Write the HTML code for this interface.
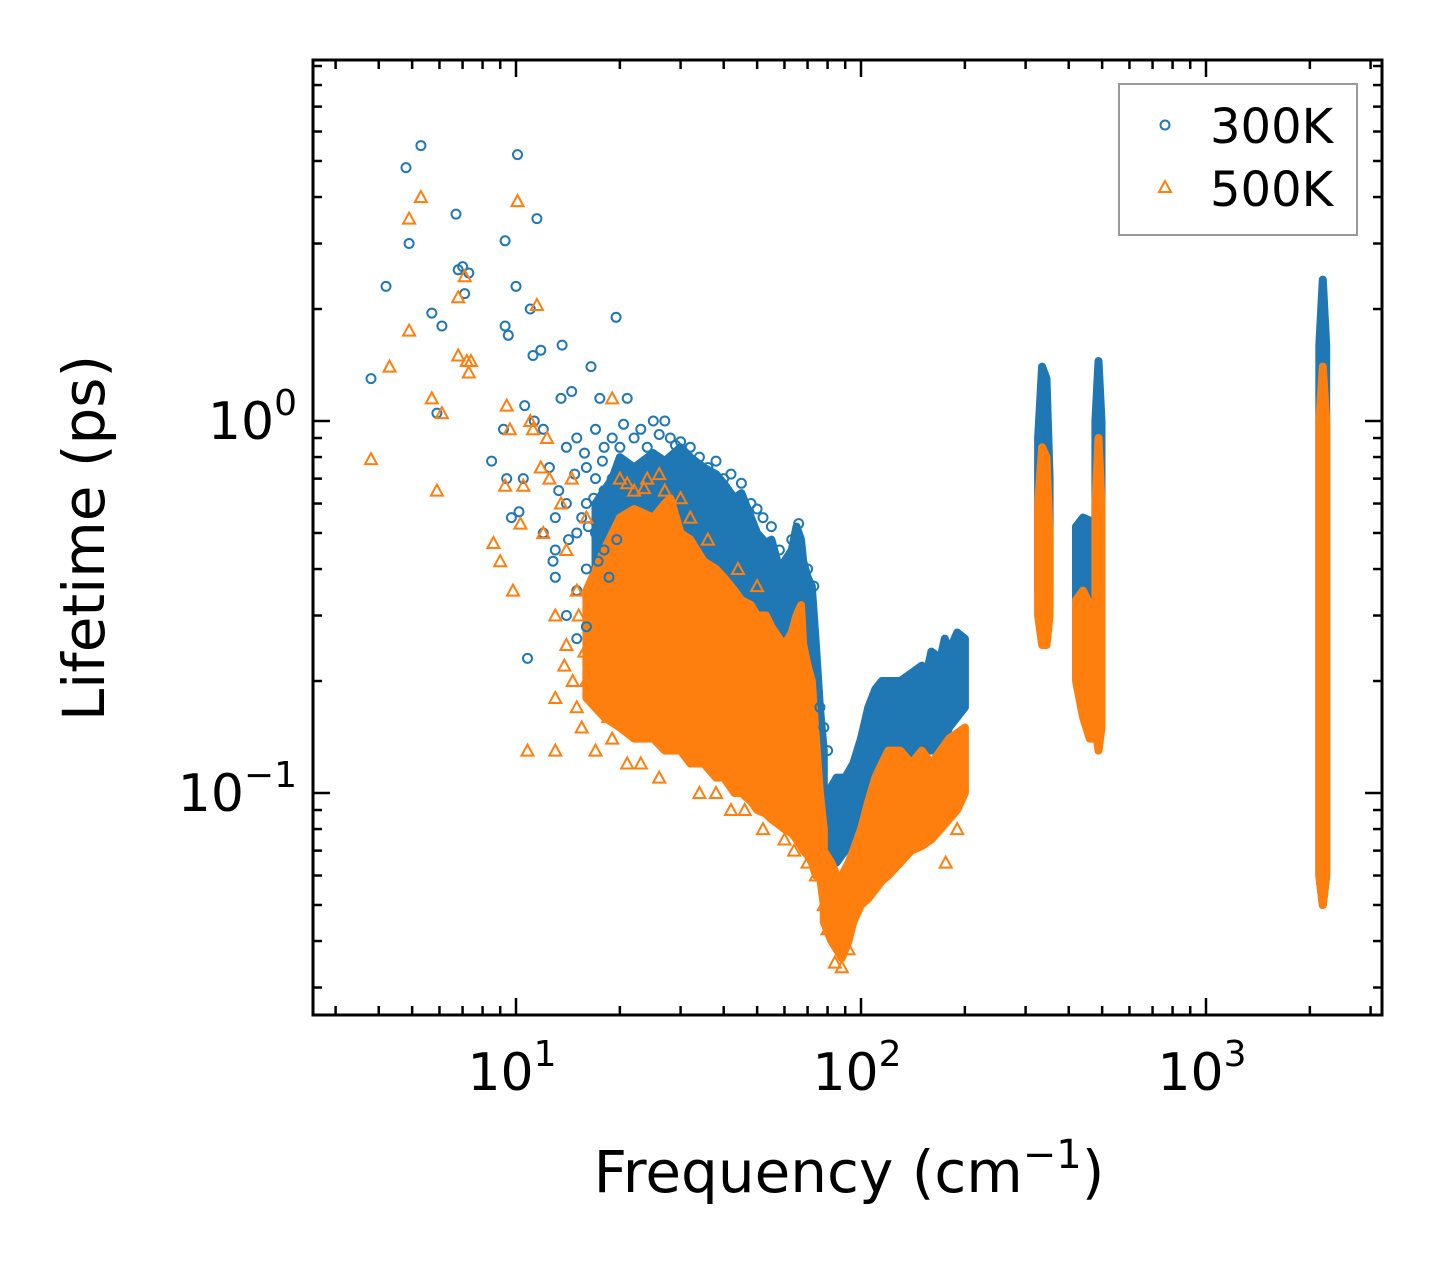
<!DOCTYPE html>
<html><head><meta charset="utf-8"><style>
body{margin:0;background:#fff}
svg text{font-family:"DejaVu Sans","Liberation Sans",sans-serif;fill:#000}
</style></head><body>
<svg id="chart" width="1442" height="1265" viewBox="0 0 1442 1265" xmlns="http://www.w3.org/2000/svg">
<rect width="1442" height="1265" fill="#fff"/>
<g id="bands"></g>
<g id="pts"></g>
<g id="axes"></g>
<g>
<rect x="1119" y="84" width="238" height="151" fill="#fff" stroke="#999" stroke-width="2"/>
<circle cx="1165" cy="125" r="4.5" fill="none" stroke="#1f77b4" stroke-width="2"/>
<text x="1210" y="143" font-size="48">300K</text>
<path d="M1165,181 L1171,192 L1159,192 Z" fill="none" stroke="#ff7f0e" stroke-width="2"/>
<text x="1210" y="206" font-size="48">500K</text>
</g>
<text x="849" y="1192" font-size="58" text-anchor="middle">Frequency (cm<tspan dy="-24" font-size="40">−1</tspan><tspan dy="24">)</tspan></text>
<text transform="translate(104,538) rotate(-90)" font-size="58" text-anchor="middle">Lifetime (ps)</text>
</svg>
<script>
// ---- data ----
const blueBandA_f=[17,19,20,22,25,27,30,32,35,38,40,43,45,48,50,53,55,58,60,63,65,67,68,70,72,74,76,78];
const blueBandA_hi=[0.6,0.7,0.8,0.75,0.82,0.78,0.85,0.8,0.75,0.72,0.68,0.62,0.64,0.55,0.5,0.47,0.48,0.4,0.42,0.45,0.52,0.48,0.42,0.38,0.36,0.25,0.17,0.13];
const blueBandA_lo=[0.35,0.3,0.3,0.28,0.27,0.26,0.25,0.24,0.22,0.2,0.19,0.17,0.16,0.15,0.15,0.14,0.13,0.12,0.11,0.1,0.1,0.09,0.09,0.085,0.08,0.08,0.08,0.08];
const blueBandB_f=[80,85,90,95,100,105,110,115,120,125,130,140,150,155,160,170,175,180,190,200];
const blueBandB_hi=[0.1,0.11,0.11,0.12,0.14,0.17,0.19,0.2,0.2,0.2,0.2,0.21,0.22,0.21,0.24,0.23,0.26,0.24,0.27,0.26];
const blueBandB_lo=[0.065,0.065,0.07,0.07,0.08,0.09,0.1,0.1,0.11,0.11,0.11,0.12,0.12,0.13,0.13,0.14,0.14,0.15,0.16,0.17];
const blueBandC_f=[326,335,345,352];
const blueBandC_hi=[0.9,1.4,1.3,0.7];
const blueBandC_lo=[0.35,0.3,0.3,0.35];
const blueBandD_f=[420,440,460,472];
const blueBandD_hi=[0.52,0.55,0.54,0.5];
const blueBandD_lo=[0.32,0.3,0.3,0.3];
const blueBandE_f=[478,488,498];
const blueBandE_hi=[1.0,1.45,1.0];
const blueBandE_lo=[0.2,0.15,0.2];
const blueBandF_f=[2130,2180,2230];
const blueBandF_hi=[1.6,2.4,1.6];
const blueBandF_lo=[0.06,0.05,0.06];

const orangeBandA_f=[16,18,20,22,25,27,28,30,32,35,38,40,43,45,48,50,53,55,58,60,63,65,67,68,70,72,74,76,78];
const orangeBandA_hi=[0.35,0.45,0.55,0.58,0.55,0.6,0.62,0.5,0.48,0.42,0.4,0.38,0.35,0.33,0.32,0.3,0.3,0.28,0.26,0.25,0.27,0.3,0.32,0.25,0.22,0.2,0.14,0.1,0.08];
const orangeBandA_lo=[0.18,0.16,0.15,0.14,0.14,0.13,0.13,0.13,0.12,0.12,0.11,0.11,0.1,0.1,0.095,0.09,0.088,0.085,0.082,0.08,0.078,0.075,0.072,0.07,0.068,0.065,0.06,0.06,0.05];
const orangeBandB_f=[78,82,85,88,92,95,100,105,110,115,120,130,140,150,160,170,180,190,200];
const orangeBandB_hi=[0.07,0.065,0.06,0.06,0.065,0.07,0.08,0.095,0.11,0.12,0.13,0.13,0.12,0.13,0.12,0.13,0.14,0.145,0.15];
const orangeBandB_lo=[0.045,0.04,0.038,0.036,0.04,0.045,0.05,0.052,0.055,0.058,0.06,0.065,0.07,0.072,0.075,0.08,0.085,0.09,0.1];
const orangeBandC_f=[326,335,345,352];
const orangeBandC_hi=[0.6,0.85,0.8,0.5];
const orangeBandC_lo=[0.3,0.25,0.25,0.3];
const orangeBandD_f=[420,440,460,472];
const orangeBandD_hi=[0.33,0.35,0.32,0.3];
const orangeBandD_lo=[0.2,0.16,0.14,0.14];
const orangeBandE_f=[478,488,498];
const orangeBandE_hi=[0.6,0.9,0.6];
const orangeBandE_lo=[0.15,0.13,0.15];
const orangeBandF_f=[2130,2180,2230];
const orangeBandF_hi=[1.0,1.4,1.0];
const orangeBandF_lo=[0.06,0.05,0.06];

const bluePoints=[[3.8,1.3],[4.2,2.3],[4.8,4.8],[4.9,3.0],[5.3,5.5],[5.7,1.95],[5.9,1.05],[6.1,1.8],[6.7,3.6],[6.8,2.55],[7.0,2.6],[7.1,2.2],[7.3,2.5],[8.5,0.78],[9.2,0.95],[9.3,1.8],[9.3,3.05],[9.4,0.7],[9.5,1.7],[9.7,0.55],[10,2.3],[10.1,5.2],[10.2,0.57],[10.5,0.7],[10.6,1.1],[10.8,0.23],[11,2.0],[11.2,1.5],[11.5,3.5],[11.8,1.55],[11.3,1.0],[12,0.95],[12.5,0.75],[13,0.55],[13,0.45],[13.5,1.15],[13.6,1.6],[14,0.85],[14,0.6],[14.5,1.2],[15,0.9],[15,0.5],[15,0.35],[16,0.75],[16,0.6],[16.5,1.4],[17,0.95],[17,0.7],[17,0.5],[17.5,1.15],[18,0.85],[18,0.65],[18,0.45],[19,0.9],[19,0.7],[19.5,1.9],[12,0.5],[13,0.38],[14,0.3],[15,0.26],[16,0.4],[16,0.28],[20,0.85],[21,1.15],[22,0.9],[25,1.0],[27,1.0],[30,0.88],[32,0.85],[36,0.75],[40,0.7],[45,0.68],[48,0.6],[52,0.55],[55,0.52],[58,0.45],[63,0.48],[66,0.53],[70,0.4],[73,0.36],[76,0.17],[78,0.15],[80,0.13],[12.8,0.42],[13.3,0.65],[14.2,0.48],[14.8,0.72],[15.5,0.55],[15.8,0.82],[16.2,0.52],[16.8,0.62],[17.3,0.42],[17.8,0.78],[18.3,0.55],[18.6,0.38],[19.2,0.62],[19.6,0.48],[20.5,0.98],[21.5,0.72],[23,0.95],[24,0.85],[26,0.92],[28,0.9],[29,0.86],[34,0.8],[38,0.78],[42,0.72],[50,0.58]];
const orangePoints=[[3.8,0.79],[4.3,1.4],[4.9,3.5],[4.9,1.75],[5.3,4.0],[5.7,1.15],[5.9,0.65],[6.1,1.05],[6.8,2.15],[6.8,1.5],[7.1,2.45],[7.2,1.45],[7.3,1.35],[7.4,1.45],[8.6,0.47],[9.0,0.42],[9.3,0.67],[9.4,1.1],[9.6,0.95],[9.8,0.35],[10.1,3.9],[10.3,0.53],[10.5,0.67],[10.8,0.13],[11.0,1.0],[11.2,0.95],[11.5,2.05],[11.8,0.75],[12,0.5],[12.3,0.9],[12.5,0.7],[13,0.3],[13,0.18],[13,0.13],[13.5,0.6],[14,0.45],[14,0.25],[14.5,0.7],[15,0.17],[15,0.35],[15.5,0.15],[16,0.55],[16,0.2],[17,0.3],[17,0.13],[18,0.2],[19,1.15],[19,0.14],[20,0.7],[21,0.12],[22,0.65],[23,0.12],[24,0.7],[26,0.11],[27,0.65],[30,0.62],[34,0.1],[38,0.1],[42,0.09],[46,0.09],[52,0.08],[60,0.075],[64,0.07],[70,0.065],[74,0.06],[76,0.07],[78,0.05],[80,0.043],[84,0.035],[88,0.034],[92,0.038],[176,0.065],[190,0.08],[13.8,0.22],[14.6,0.2],[15.2,0.3],[15.8,0.24],[16.5,0.19],[17.2,0.27],[18.5,0.16],[19.5,0.18],[21,0.68],[23.5,0.66],[26,0.72],[32,0.55],[36,0.48],[44,0.4],[50,0.36]];

// ---- scales ----
const svg=document.getElementById('chart');
const NS='http://www.w3.org/2000/svg';
const L=313,R=1382,T=60,B=1015;
function xs(f){return 516+345*(Math.log10(f)-1);}
function ys(t){return 421-372*Math.log10(t);}
function mk(tag,attrs,parent){const e=document.createElementNS(NS,tag);for(const k in attrs)e.setAttribute(k,attrs[k]);parent.appendChild(e);return e;}

const bandsG=document.getElementById('bands');
function band(f,hi,lo,color,name){
  let d='M'+f.map((v,i)=>xs(v).toFixed(1)+','+ys(hi[i]).toFixed(1)).join(' L');
  for(let i=f.length-1;i>=0;i--)d+=' L'+xs(f[i]).toFixed(1)+','+ys(lo[i]).toFixed(1);
  d+=' Z';
  const p=mk('path',{d:d,fill:color,stroke:color,'stroke-width':8,'stroke-linejoin':'round'},bandsG);
  
  
}
const BL='#1f77b4',OR='#ff7f0e';
band(blueBandA_f,blueBandA_hi,blueBandA_lo,BL,'band-300k-a');
band(blueBandB_f,blueBandB_hi,blueBandB_lo,BL,'band-300k-b');
band(blueBandC_f,blueBandC_hi,blueBandC_lo,BL,'band-300k-c');
band(blueBandD_f,blueBandD_hi,blueBandD_lo,BL,'band-300k-d');
band(blueBandE_f,blueBandE_hi,blueBandE_lo,BL,'band-300k-e');
band(blueBandF_f,blueBandF_hi,blueBandF_lo,BL,'band-300k-f');
band(orangeBandA_f,orangeBandA_hi,orangeBandA_lo,OR,'band-500k-a');
band(orangeBandB_f,orangeBandB_hi,orangeBandB_lo,OR,'band-500k-b');
band(orangeBandC_f,orangeBandC_hi,orangeBandC_lo,OR,'band-500k-c');
band(orangeBandD_f,orangeBandD_hi,orangeBandD_lo,OR,'band-500k-d');
band(orangeBandE_f,orangeBandE_hi,orangeBandE_lo,OR,'band-500k-e');
band(orangeBandF_f,orangeBandF_hi,orangeBandF_lo,OR,'band-500k-f');

const ptsG=document.getElementById('pts');
bluePoints.forEach(p=>{
  const c=mk('circle',{cx:xs(p[0]).toFixed(1),cy:ys(p[1]).toFixed(1),r:4.5,fill:'none',stroke:BL,'stroke-width':2},ptsG);
  
  
});
orangePoints.forEach(p=>{
  const x=xs(p[0]),y=ys(p[1]);
  const t=mk('path',{d:`M${x.toFixed(1)},${(y-6).toFixed(1)} L${(x+6).toFixed(1)},${(y+5).toFixed(1)} L${(x-6).toFixed(1)},${(y+5).toFixed(1)} Z`,fill:'none',stroke:OR,'stroke-width':2},ptsG);
  
  
});

// ---- axes ----
const ax=document.getElementById('axes');
const frame=mk('rect',{x:L,y:T,width:R-L,height:B-T,fill:'none',stroke:'#000','stroke-width':3},ax);


const xMajor=[10,100,1000];
const xMajorLabels=['1','2','3'];
const xMinor=[3,4,5,6,7,8,9,20,30,40,50,60,70,80,90,200,300,400,500,600,700,800,900,2000,3000];
const yMajor=[0.1,1];
const yMajorLabels=['−1','0'];
const yMinor=[0.03,0.04,0.05,0.06,0.07,0.08,0.09,0.2,0.3,0.4,0.5,0.6,0.7,0.8,0.9,2,3,4,5,6,7,8,9];
function tick(x1,y1,x2,y2,name){const l=mk('line',{x1,y1,x2,y2,stroke:'#000','stroke-width':2.5},ax);}
xMinor.forEach(f=>{const x=xs(f);tick(x,B,x,B-9,'x-minor-tick');tick(x,T,x,T+9,'x-minor-tick');});
yMinor.forEach(t=>{const y=ys(t);tick(L,y,L+9,y,'y-minor-tick');tick(R,y,R-9,y,'y-minor-tick');});
xMajor.forEach((f,i)=>{const x=xs(f);tick(x,B,x,B-17,'x-major-tick');tick(x,T,x,T+17,'x-major-tick');
  const tx=mk('text',{x:x-4,y:1090,'font-size':52,'text-anchor':'middle'},ax);
  
  
  tx.innerHTML='10<tspan dy="-24" font-size="36">'+xMajorLabels[i]+'</tspan>';});
yMajor.forEach((t,i)=>{const y=ys(t);tick(L,y,L+17,y,'y-major-tick');tick(R,y,R-17,y,'y-major-tick');
  const tx=mk('text',{x:297,y:y+18,'font-size':52,'text-anchor':'end'},ax);
  
  
  tx.innerHTML='10<tspan dy="-24" font-size="36">'+yMajorLabels[i]+'</tspan>';});
</script>
</body></html>
